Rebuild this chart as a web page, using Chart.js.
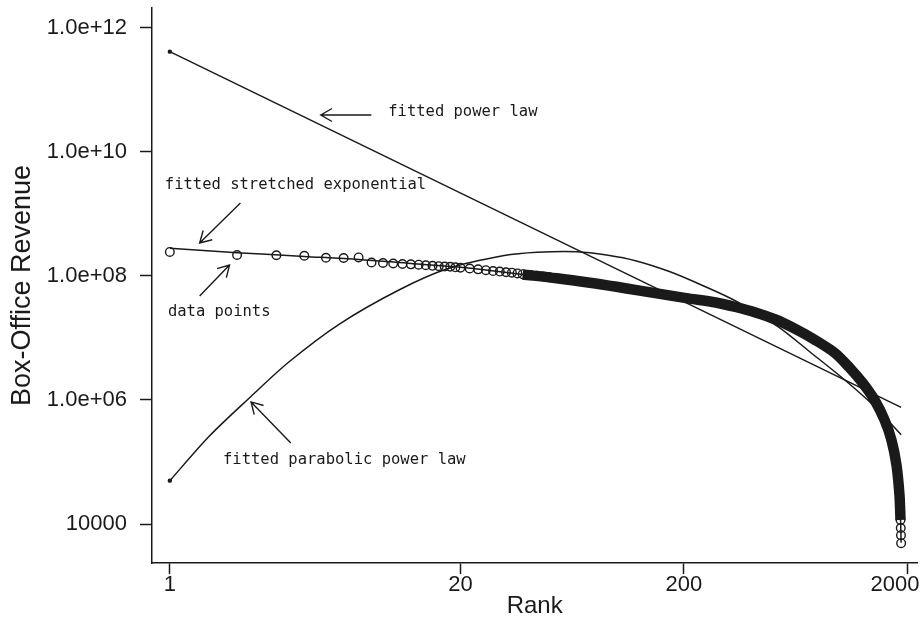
<!DOCTYPE html>
<html>
<head>
<meta charset="utf-8">
<script src="https://cdn.jsdelivr.net/npm/chart.js@4.4.0/dist/chart.umd.min.js"></script>
<style>
  html, body { margin: 0; padding: 0; background: #fff; }
  #chart { display: block; }
</style>
</head>
<body>
<canvas id="chart" width="923" height="622"></canvas>
<script>
// values (rank vs box-office revenue)
const sparseRank = [1, 2, 3, 4, 5, 6, 7, 8, 9, 10, 11, 12, 13, 14, 15, 16, 17, 18, 19, 20,
  22, 24, 26, 28, 30, 32, 34, 36, 38, 41, 44, 47, 50];
const sparseRevenue = [2.44e8, 2.18e8, 2.16e8, 2.12e8, 1.97e8, 1.95e8, 1.99e8, 1.65e8, 1.62e8, 1.59e8,
  1.56e8, 1.54e8, 1.52e8, 1.49e8, 1.46e8, 1.44e8, 1.42e8, 1.41e8, 1.38e8, 1.36e8,
  1.32e8, 1.28e8, 1.24e8, 1.20e8, 1.18e8, 1.15e8, 1.13e8, 1.10e8, 1.07e8, 1.04e8, 1.01e8, 9.8e7, 9.5e7];

const bandRank = [38, 54, 76, 100, 123, 205, 278, 341, 419, 514, 631, 774, 950, 1108, 1265, 1430, 1585, 1702, 1792, 1848, 1868];
const bandRevenue = [1.06e8, 9.2e7, 7.8e7, 6.7e7, 5.9e7, 4.4e7, 3.74e7, 3.16e7, 2.58e7, 1.99e7, 1.40e7, 9.3e6, 5.73e6,
  3.28e6, 1.88e6, 1.0e6, 4.75e5, 2.26e5, 8.95e4, 2.94e4, 1.16e4];

const tailRank = [1862, 1868, 1873, 1877, 1880];
const tailRevenue = [1.56e4, 1.16e4, 8.6e3, 6.6e3, 4.9e3];

const stretchRank = [1, 2, 4, 7, 12, 20, 38, 100, 205, 341, 514, 774, 1108, 1430, 1702, 1848, 1880];
const stretchRevenue = [2.8e8, 2.38e8, 2.07e8, 1.85e8, 1.59e8, 1.38e8, 1.06e8, 6.7e7, 4.4e7, 3.16e7, 1.99e7, 9.3e6,
  3.28e6, 1.0e6, 2.26e5, 2.94e4, 5.0e3];

const powerRank = [1, 1880];
const powerRevenue = [4.15e11, 7.6e5];

const paraRank = [1, 1.5, 2.27, 3.41, 5.7, 10.5, 17.6, 31.4, 44.1, 66.4, 90.3, 122.7, 172.5, 242.8, 341.5, 531.8, 733, 1052, 1430, 1880];
const paraRevenue = [5.0e4, 2.6e5, 1.08e6, 4.1e6, 1.65e7, 5.84e7, 1.32e8, 2.14e8, 2.42e8, 2.47e8, 2.18e8, 1.75e8,
  1.18e8, 7.03e7, 3.95e7, 1.5e7, 6.0e6, 2.1e6, 7.85e5, 2.75e5];

const xTicks = [1, 20, 200, 2000];
const xTickLabels = ['1', '20', '200', '2000    '];
const yTicks = [1e4, 1e6, 1e8, 1e10, 1e12];
const yTickLabels = ['10000', '1.0e+06', '1.0e+08', '1.0e+10', '1.0e+12'];

// annotation text + arrow (tail -> head), in data units
const notes = [
  { text: 'fitted power law', at: [9.5, 4.47e10], from: [7.98, 3.95e10], to: [4.74, 3.95e10] },
  { text: 'fitted stretched exponential', at: [0.95, 2.94e9], from: [2.07, 1.5e9], to: [1.36, 3.4e8] },
  { text: 'data points', at: [0.98, 2.65e7], from: [1.36, 4.75e7], to: [1.85, 1.5e8] },
  { text: 'fitted parabolic power law', at: [1.73, 1.08e5], from: [3.48, 2.02e5], to: [2.31, 9.3e5] }
];

const ink = '#1a1a1a';
const sans = '"Liberation Sans", Arial, sans-serif';
const pts = (xs, ys) => xs.map((v, i) => ({ x: v, y: ys[i] }));

const notePlugin = {
  id: 'notes',
  afterDatasetsDraw(chart) {
    const { ctx, scales: { x, y } } = chart;
    ctx.save();
    ctx.font = '15.5px "DejaVu Sans Mono"';
    ctx.fillStyle = ink;
    ctx.strokeStyle = ink;
    ctx.lineWidth = 1.4;
    ctx.textBaseline = 'middle';
    notes.forEach(n => {
      ctx.fillText(n.text, x.getPixelForValue(n.at[0]), y.getPixelForValue(n.at[1]));
      const x0 = x.getPixelForValue(n.from[0]), y0 = y.getPixelForValue(n.from[1]);
      const x1 = x.getPixelForValue(n.to[0]), y1 = y.getPixelForValue(n.to[1]);
      const a = Math.atan2(y1 - y0, x1 - x0);
      const h = 13, s = Math.PI / 6;
      ctx.beginPath();
      ctx.moveTo(x0, y0);
      ctx.lineTo(x1, y1);
      ctx.moveTo(x1 - h * Math.cos(a - s), y1 - h * Math.sin(a - s));
      ctx.lineTo(x1, y1);
      ctx.lineTo(x1 - h * Math.cos(a + s), y1 - h * Math.sin(a + s));
      ctx.stroke();
    });
    ctx.restore();
  }
};

const firstDot = c => (c.dataIndex === 0 ? 2.2 : 0);

new Chart(document.getElementById('chart'), {
  type: 'scatter',
  data: {
    datasets: [
      { label: 'data points', data: pts(sparseRank, sparseRevenue), pointRadius: 4.3, borderWidth: 1.4,
        borderColor: ink, backgroundColor: 'rgba(0,0,0,0)', showLine: false },
      { label: 'data band', data: pts(bandRank, bandRevenue), pointRadius: 0, borderWidth: 10.5,
        borderColor: ink, showLine: true, tension: 0.3 },
      { label: 'data tail', data: pts(tailRank, tailRevenue), pointRadius: 4.3, borderWidth: 1.4,
        borderColor: ink, backgroundColor: 'rgba(0,0,0,0)', showLine: false },
      { label: 'stretched exponential', data: pts(stretchRank, stretchRevenue), pointRadius: 0, borderWidth: 1.5,
        borderColor: ink, showLine: true, tension: 0.3 },
      { label: 'power law', data: pts(powerRank, powerRevenue), pointRadius: firstDot, pointBackgroundColor: ink,
        pointBorderWidth: 0, borderWidth: 1.5, borderColor: ink, showLine: true },
      { label: 'parabolic power law', data: pts(paraRank, paraRevenue), pointRadius: firstDot, pointBackgroundColor: ink,
        pointBorderWidth: 0, borderWidth: 1.5, borderColor: ink, showLine: true, tension: 0.3 }
    ]
  },
  options: {
    responsive: false,
    animation: false,
    devicePixelRatio: 1,
    layout: { padding: { top: 8, left: 0, right: 0, bottom: 0 } },
    plugins: { legend: { display: false }, tooltip: { enabled: false } },
    scales: {
      x: {
        type: 'logarithmic',
        bounds: 'data',
        min: 0.832,
        max: 2221,
        afterBuildTicks: s => { s.ticks = xTicks.map(v => ({ value: v })); },
        afterFit: s => { s.height = 59; s.paddingLeft = 0; s.paddingRight = 0; },
        grid: { drawOnChartArea: false, drawTicks: true, tickLength: 11, tickColor: ink, tickWidth: 1.5 },
        border: { display: true, color: ink, width: 1.5 },
        ticks: {
          autoSkip: false, maxRotation: 0, minRotation: 0, padding: 0, color: ink,
          font: { family: sans, size: 22, lineHeight: 1 },
          callback: (v, i) => xTickLabels[i]
        },
        title: { display: true, text: 'Rank', color: ink, padding: { top: 0, bottom: 1 },
          font: { family: sans, size: 24 } }
      },
      y: {
        type: 'logarithmic',
        bounds: 'data',
        min: 2350,
        max: 2.1e12,
        afterBuildTicks: s => { s.ticks = yTicks.map(v => ({ value: v })); },
        afterFit: s => { s.width = 152; s.paddingTop = 0; s.paddingBottom = 0; },
        grid: { drawOnChartArea: false, drawTicks: true, tickLength: 12, tickColor: ink, tickWidth: 1.5 },
        border: { display: true, color: ink, width: 1.5 },
        ticks: {
          autoSkip: false, padding: 13, color: ink,
          font: { family: sans, size: 22 },
          callback: (v, i) => yTickLabels[i]
        },
        title: { display: true, text: 'Box-Office Revenue', color: ink, padding: { top: 6, bottom: 0 },
          font: { family: sans, size: 27 } }
      }
    }
  },
  plugins: [notePlugin]
});
</script>
</body>
</html>
